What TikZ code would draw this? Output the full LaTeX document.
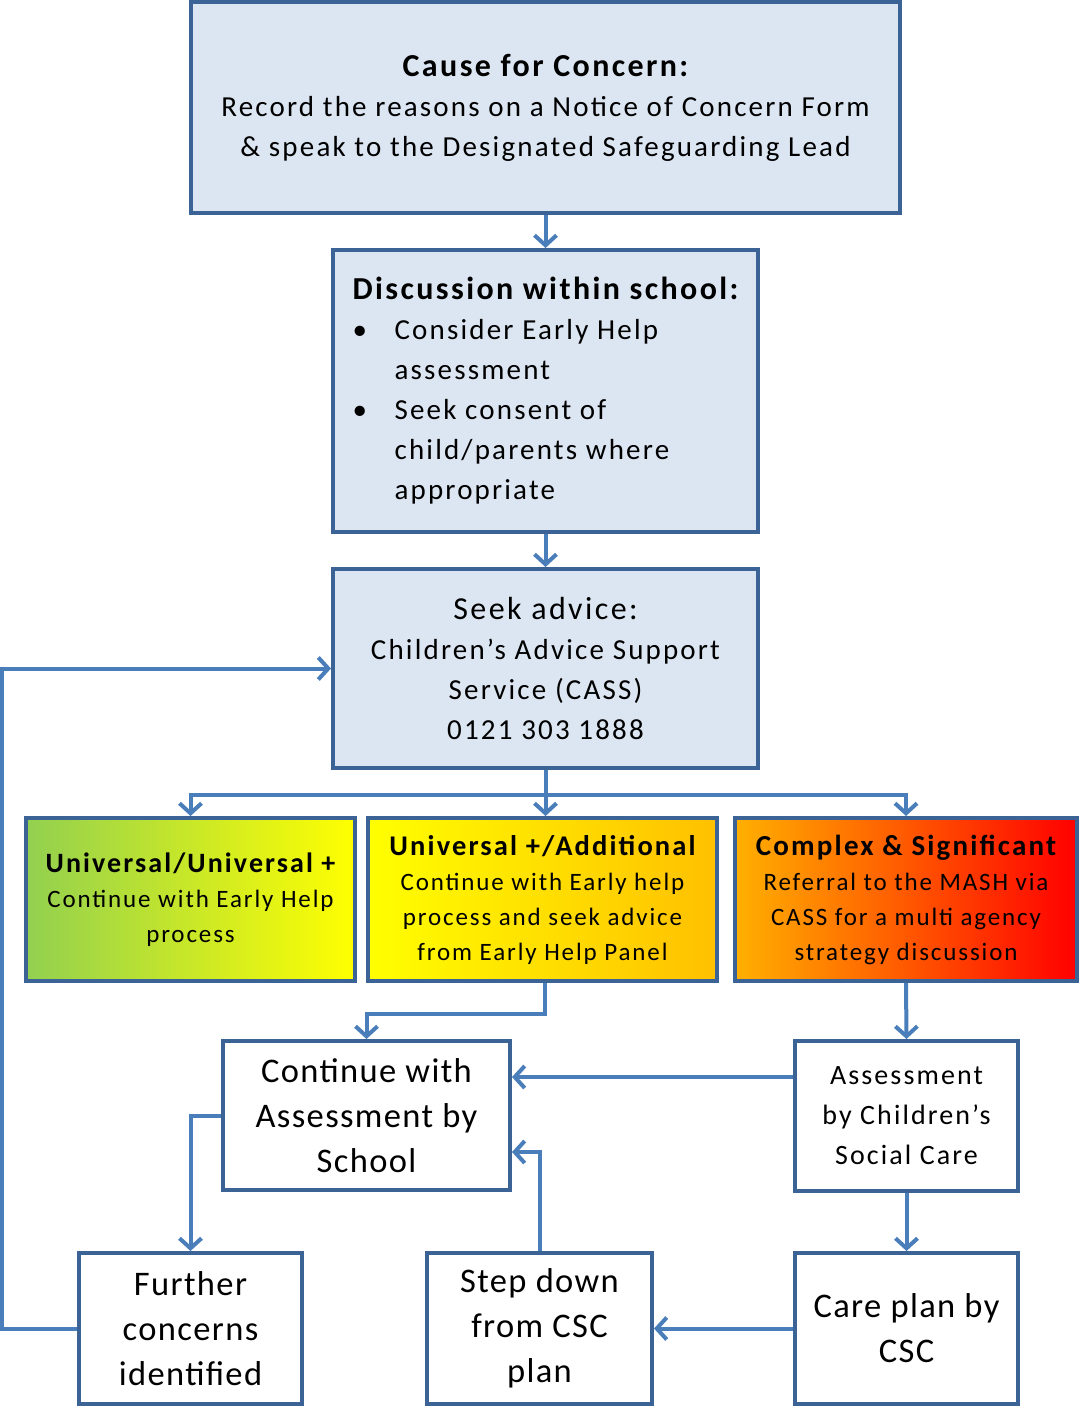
\documentclass[tikz,border=0pt]{standalone}
\usepackage{fontspec}
\setmainfont{Carlito}[LetterSpace=7.5]
\newfontfamily\tightfont{Carlito}[LetterSpace=4]
\usetikzlibrary{arrows.meta}

\definecolor{paleblue}{HTML}{DCE6F2}
\definecolor{edgeblue}{HTML}{3B6395}
\definecolor{linkblue}{HTML}{4A7EBB}
\definecolor{ehgreen}{HTML}{92D050}
\definecolor{ehyellow}{HTML}{FFFF00}
\definecolor{ehorange}{HTML}{FFC000}
\definecolor{ehamber}{HTML}{FFB000}
\definecolor{ehred}{HTML}{FF0000}

\tikzset{
  stagebox/.style={draw=edgeblue, line width=4pt, align=center, inner sep=0pt},
  bluebox/.style={stagebox, fill=paleblue, font=\fontsize{29}{40}\selectfont},
  levelbox/.style={stagebox, font=\fontsize{25}{35}\selectfont},
  whitebox/.style={stagebox, fill=white, font=\tightfont\fontsize{34.5}{45}\selectfont},
  link/.style={draw=linkblue, line width=4pt, -{Straight Barb[length=10pt,width=22pt,line width=4pt]}},
}

\begin{document}
\begin{tikzpicture}[x=1pt,y=-1pt]
  \useasboundingbox (0,0) rectangle (1079,1420);

  % top row
  \node[bluebox, minimum width=709pt, minimum height=211pt] (concern) at (545.5,107.5)
    {{\bfseries\fontsize{32}{40}\selectfont Cause for Concern:}\\
     Record the reasons on a Notice of Concern Form\\
     \& speak to the Designated Safeguarding Lead};
  \node[bluebox, minimum width=425pt, minimum height=282pt, align=left] (discuss) at (545.5,391)
    {{\bfseries\fontsize{32}{40}\selectfont Discussion within school:}\\
     \makebox[42pt][l]{\textbullet}Consider Early Help\\
     \hspace*{42pt}assessment\\
     \makebox[42pt][l]{\textbullet}Seek consent of\\
     \hspace*{42pt}child/parents where\\
     \hspace*{42pt}appropriate};
  \node[bluebox, minimum width=425pt, minimum height=199pt] (seek) at (545.5,668.5)
    {{\fontsize{32}{42}\selectfont Seek advice:}\\
     Children’s Advice Support\\
     Service (CASS)\\
     0121 303 1888};

  % levels of need
  \node[levelbox, left color=ehgreen, right color=ehyellow, minimum width=329pt, minimum height=163pt] (univ) at (190.5,899.5)
    {{\bfseries\fontsize{28}{38}\selectfont Universal/Universal +}\\
     Continue with Early Help\\
     process};
  \node[levelbox, left color=ehyellow, right color=ehorange, minimum width=349pt, minimum height=163pt] (addl) at (542.5,899.5)
    {{\bfseries\fontsize{28.5}{37}\selectfont Universal +/Additional}\\
     Continue with Early help\\
     process and seek advice\\
     from Early Help Panel};
  \node[levelbox, left color=ehamber, right color=ehred, minimum width=342pt, minimum height=163pt] (cplx) at (906,899.5)
    {{\bfseries\fontsize{29}{37}\selectfont Complex \& Significant}\\
     Referral to the MASH via\\
     CASS for a multi agency\\
     strategy discussion};

  % outcomes
  \node[whitebox, minimum width=287pt, minimum height=149pt] (school) at (366.5,1115.5)
    {Continue with\\ Assessment by\\ School};
  \node[whitebox, minimum width=223pt, minimum height=150pt, font=\fontsize{28}{40}\selectfont] (csc) at (906.5,1116)
    {Assessment\\ by Children’s\\ Social Care};
  \node[whitebox, minimum width=223pt, minimum height=151pt] (further) at (190.5,1328.5)
    {Further\\ concerns\\ identified};
  \node[whitebox, minimum width=225pt, minimum height=151pt] (stepdown) at (539.5,1328.5)
    {Step down\\ from CSC\\ plan};
  \node[whitebox, minimum width=223pt, minimum height=151pt] (careplan) at (906.5,1328.5)
    {Care plan by\\ CSC};

  \coordinate (split) at (545.5,795);

  % connectors
  \draw[link] (concern.south) -- (discuss.north);
  \draw[link] (discuss.south) -- (seek.north);
  \draw[link] (seek.south) -- (split) -| (univ.north);
  \draw[link] (split) -| (cplx.north);
  \draw[link] (split) -- (split |- addl.north);
  \draw[link] ([xshift=2.5pt]addl.south) -- ++(0,31) -| (school.north);
  \draw[link] (cplx.south) -- (csc.north);
  \draw[link] ([yshift=39pt]csc.west) -- ([yshift=38.5pt]school.east);
  \draw[link] (stepdown.north) |- ([yshift=-36.5pt]school.east);
  \draw[link] (school.west) -| (further.north);
  \draw[link] (further.west) -- ++(-75,0) |- (seek.west);
  \draw[link] (csc.south) -- (careplan.north);
  \draw[link] (careplan.west) -- (stepdown.east);
\end{tikzpicture}
\end{document}
